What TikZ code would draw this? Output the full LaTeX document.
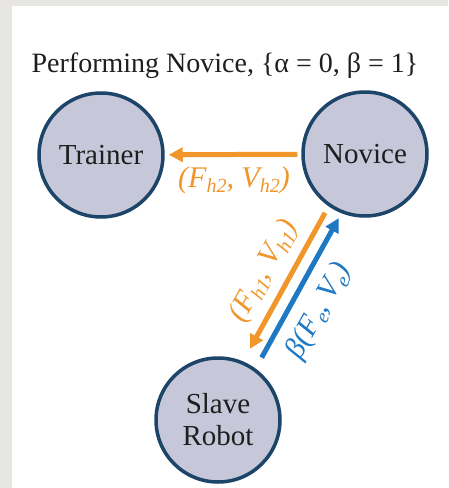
\documentclass[tikz,border=0pt]{standalone}
\usepackage{fontspec}
\setmainfont{Liberation Serif}
\usetikzlibrary{arrows.meta,calc}
\definecolor{bgray}{RGB}{232,230,227}
\definecolor{ora}{RGB}{240,150,42}
\definecolor{blu}{RGB}{30,120,194}
\definecolor{rim}{RGB}{29,68,105}
\definecolor{cfill}{RGB}{198,200,218}
\definecolor{ink}{RGB}{30,30,30}
\newcommand{\sbs}[1]{\raisebox{-0.18em}{\fontsize{20}{20}\selectfont #1}}
\begin{document}
\begin{tikzpicture}[x=1pt,y=-1pt,
  agent/.style={circle,draw=rim,fill=cfill,line width=3.5pt,minimum size=124pt,inner sep=0pt,
    font=\fontsize{29}{32}\selectfont,align=center,text=ink},
  flow/.style={line width=5pt,-{Triangle[length=14pt,width=14pt]}},
  lab/.style={font=\fontsize{30}{30}\selectfont\itshape,inner sep=0pt}]
\useasboundingbox (0,0) rectangle (448,488);
\fill[bgray] (0,0) rectangle (448,488);
\fill[white] (12,6) rectangle (448,488);
\node[font=\fontsize{28}{30}\selectfont,text=ink] (title) at (225,66) {Performing Novice, \{α = 0, β = 1\}};
\node[agent] (trn) at (101,155) {Trainer};
\node[agent] (nov) at (365,154) {Novice};
\node[agent] (sla) at (218,420) {Slave\\Robot};
\draw[flow,ora,shorten <=4pt,shorten >=4pt] (nov) -- (trn);
\node[lab,text=ora] (l2) at (234,180) {(F\sbs{h2}, V\sbs{h2})};
\draw[flow,ora,shorten <=7pt,shorten >=14pt,transform canvas={xshift=-5.7pt,yshift=3.1pt}] (nov) -- (sla);
\draw[flow,blu,shorten <=12pt,shorten >=5pt,transform canvas={xshift=7pt,yshift=-3.9pt}] (sla) -- (nov);
\node[lab,text=ora,rotate=61] (l1) at (264,271) {(F\sbs{h1}, V\sbs{h1})};
\node[lab,text=blu,rotate=61] (le) at (319,311) {β(F\sbs{e}, V\sbs{e})};
\end{tikzpicture}
\end{document}
